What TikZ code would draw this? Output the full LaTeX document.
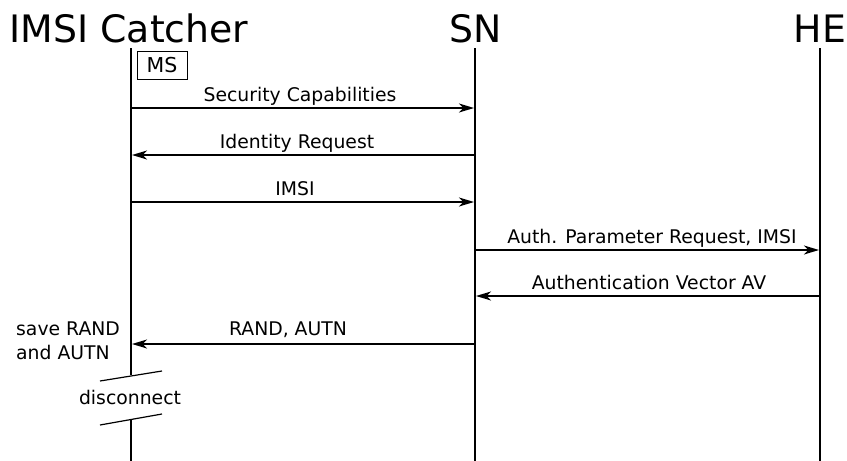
\documentclass[tikz,border=0pt]{standalone}
\usepackage{fontspec}
\setmainfont{DejaVu Sans}
\usetikzlibrary{arrows.meta}
\begin{document}
\begin{tikzpicture}[x=1pt,y=-1pt,
  title/.style={font=\fontsize{37.8}{40}\selectfont, anchor=base, inner sep=0pt},
  lbl/.style={font=\fontsize{18.8}{22}\selectfont, anchor=base, inner sep=0pt},
  life/.style={line width=2pt},
  msg/.style={line width=1.4pt, -{Stealth[length=15pt,width=9pt,inset=4.5pt]}},
  slash/.style={line width=1.2pt}]
\useasboundingbox (0,0) rectangle (847,461);
% titles
\node[title] (tA) at (129,42) {IMSI Catcher};
\node[title] (tB) at (476,42) {SN};
\node[title] (tC) at (820,42) {HE};
% lifeline coordinates
\coordinate (A0) at (131,48);
\coordinate (Abr1) at (131,375);
\coordinate (Abr2) at (131,420);
\coordinate (A9) at (131,461);
\coordinate (B0) at (475,48);
\coordinate (B9) at (475,461);
\coordinate (C0) at (820,48);
\coordinate (C9) at (820,461);
\draw[life] (A0) -- (Abr1);
\draw[life] (Abr2) -- (A9);
\draw[life] (B0) -- (B9);
\draw[life] (C0) -- (C9);
% MS box
\node[draw, line width=0.8pt, minimum width=50pt, minimum height=28pt, inner sep=0pt,
  font=\fontsize{20.5}{20}\selectfont] (ms) at (162,65) {MS};
% message endpoints
\coordinate (A1) at (132,108); \coordinate (B1) at (474,108);
\coordinate (A2) at (132,155); \coordinate (B2) at (474,155);
\coordinate (A3) at (132,202); \coordinate (B3) at (474,202);
\coordinate (B4) at (476,250); \coordinate (C4) at (819,250);
\coordinate (B5) at (476,296); \coordinate (C5) at (819,296);
\coordinate (A6) at (132,344); \coordinate (B6) at (474,344);
\draw[msg] (A1) -- (B1);
\draw[msg] (B2) -- (A2);
\draw[msg] (A3) -- (B3);
\draw[msg] (B4) -- (C4);
\draw[msg] (C5) -- (B5);
\draw[msg] (B6) -- (A6);
% labels
\node[lbl] (l1) at (300,101.5) {Security Capabilities};
\node[lbl] (l2) at (297,148.5) {Identity Request};
\node[lbl] (l3) at (295,195.5) {IMSI};
\node[lbl] (l4) at (652,243.5) {Auth. Parameter Request, IMSI};
\node[lbl] (l5) at (649,289.5) {Authentication Vector AV};
\node[lbl] (l6) at (288,335.5) {RAND, AUTN};
\node[lbl, anchor=base west] (s1) at (16,335) {save RAND};
\node[lbl, anchor=base west] (s2) at (16,359) {and AUTN};
% disconnect
\coordinate (d1a) at (100,381); \coordinate (d1b) at (162,371);
\coordinate (d2a) at (100,425); \coordinate (d2b) at (162,414);
\draw[slash] (d1a) -- (d1b);
\draw[slash] (d2a) -- (d2b);
\node[lbl] (dc) at (130,404) {disconnect};
\end{tikzpicture}
\end{document}
